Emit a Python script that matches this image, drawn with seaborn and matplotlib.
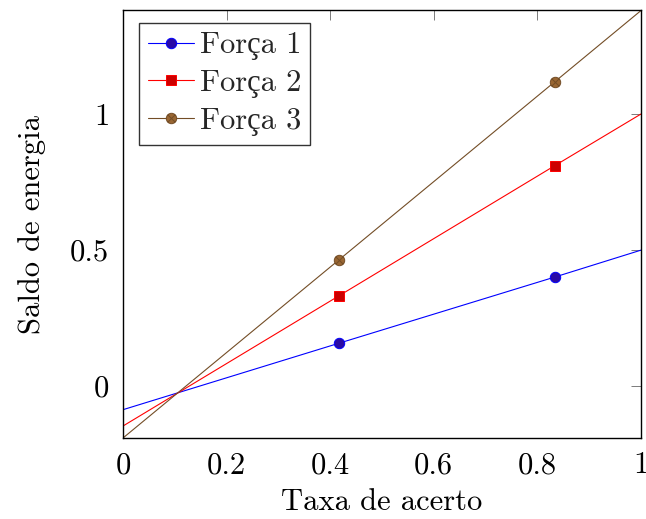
import numpy as np
import pandas as pd
import seaborn as sns
import matplotlib
matplotlib.use("Agg")
import matplotlib.pyplot as plt
from matplotlib.path import Path
from matplotlib.ticker import FuncFormatter, MultipleLocator

# ---- data ----
x_vals = [0.0, 0.4167, 0.8333, 1.0]
forca1 = [-0.086, 0.158, 0.401, 0.500]
forca2 = [-0.146, 0.332, 0.810, 1.000]
forca3 = [-0.190, 0.464, 1.118, 1.380]
series_names = ["Força 1", "Força 2", "Força 3"]
x_label = "Taxa de acerto"
y_label = "Saldo de energia"

sns.set_theme(style="white")
plt.rcParams["font.family"] = ["cmr10", "Liberation Serif"]
plt.rcParams["mathtext.fontset"] = "cm"
plt.rcParams["axes.formatter.use_mathtext"] = True
plt.rcParams["axes.unicode_minus"] = False

FS = 22

fig = plt.figure(figsize=(6.46, 5.19), dpi=100)
ax = fig.add_axes([123 / 646, 1 - 438 / 519, 518 / 646, 428 / 519])

# otimes marker: circle with a cross
circ = Path.unit_circle()
d = np.sqrt(0.5)
verts = list(circ.vertices) + [(-d, -d), (d, d), (-d, d), (d, -d)]
codes = list(circ.codes) + [Path.MOVETO, Path.LINETO, Path.MOVETO, Path.LINETO]
otimes = Path(verts, codes)

styles = [
    dict(color=(0, 0, 1), mfc=(0.16, 0.04, 0.65), marker="o", ms=7.5),
    dict(color=(1, 0, 0), mfc=(0.8, 0, 0), marker="s", ms=7),
    dict(color=(0.45, 0.3, 0.15), mfc=(0.6, 0.4, 0.2), marker=otimes, ms=7.5),
]
for name, ys, st in zip(series_names, [forca1, forca2, forca3], styles):
    df = pd.DataFrame({"x": x_vals, "y": ys})
    sns.lineplot(data=df, x="x", y="y", ax=ax, color=st["color"], lw=0.8,
                 marker=st["marker"], markersize=st["ms"], markerfacecolor=st["mfc"],
                 markeredgecolor=st["color"], markeredgewidth=0.7,
                 markevery=[1, 2], label=name)

ax.set_xlim(0, 1)
ax.set_ylim(-0.19, 1.382)
ax.xaxis.set_major_locator(MultipleLocator(0.2))
ax.yaxis.set_major_locator(MultipleLocator(0.5))
fmt = FuncFormatter(lambda v, p: "%g" % round(v, 3))
ax.xaxis.set_major_formatter(fmt)
ax.yaxis.set_major_formatter(fmt)

ax.tick_params(direction="in", length=7.5, width=0.6, color="#666666",
               top=True, right=True, labelsize=FS, pad=10, labelcolor="black")
for s in ax.spines.values():
    s.set_color("black")
    s.set_linewidth(1.0)

ax.set_xlabel(x_label, fontsize=FS, labelpad=7, color="black")
ax.set_ylabel(y_label, fontsize=FS, labelpad=17, color="black")

leg = ax.legend(loc="upper left", bbox_to_anchor=(0.03, 0.97), borderaxespad=0,
                fontsize=FS, frameon=True, fancybox=False, handlelength=1.5,
                handletextpad=0.2, labelspacing=0.3, borderpad=0.3)
leg.get_frame().set_edgecolor("black")
leg.get_frame().set_linewidth(1.0)

fig.savefig("out.png", dpi=100)
